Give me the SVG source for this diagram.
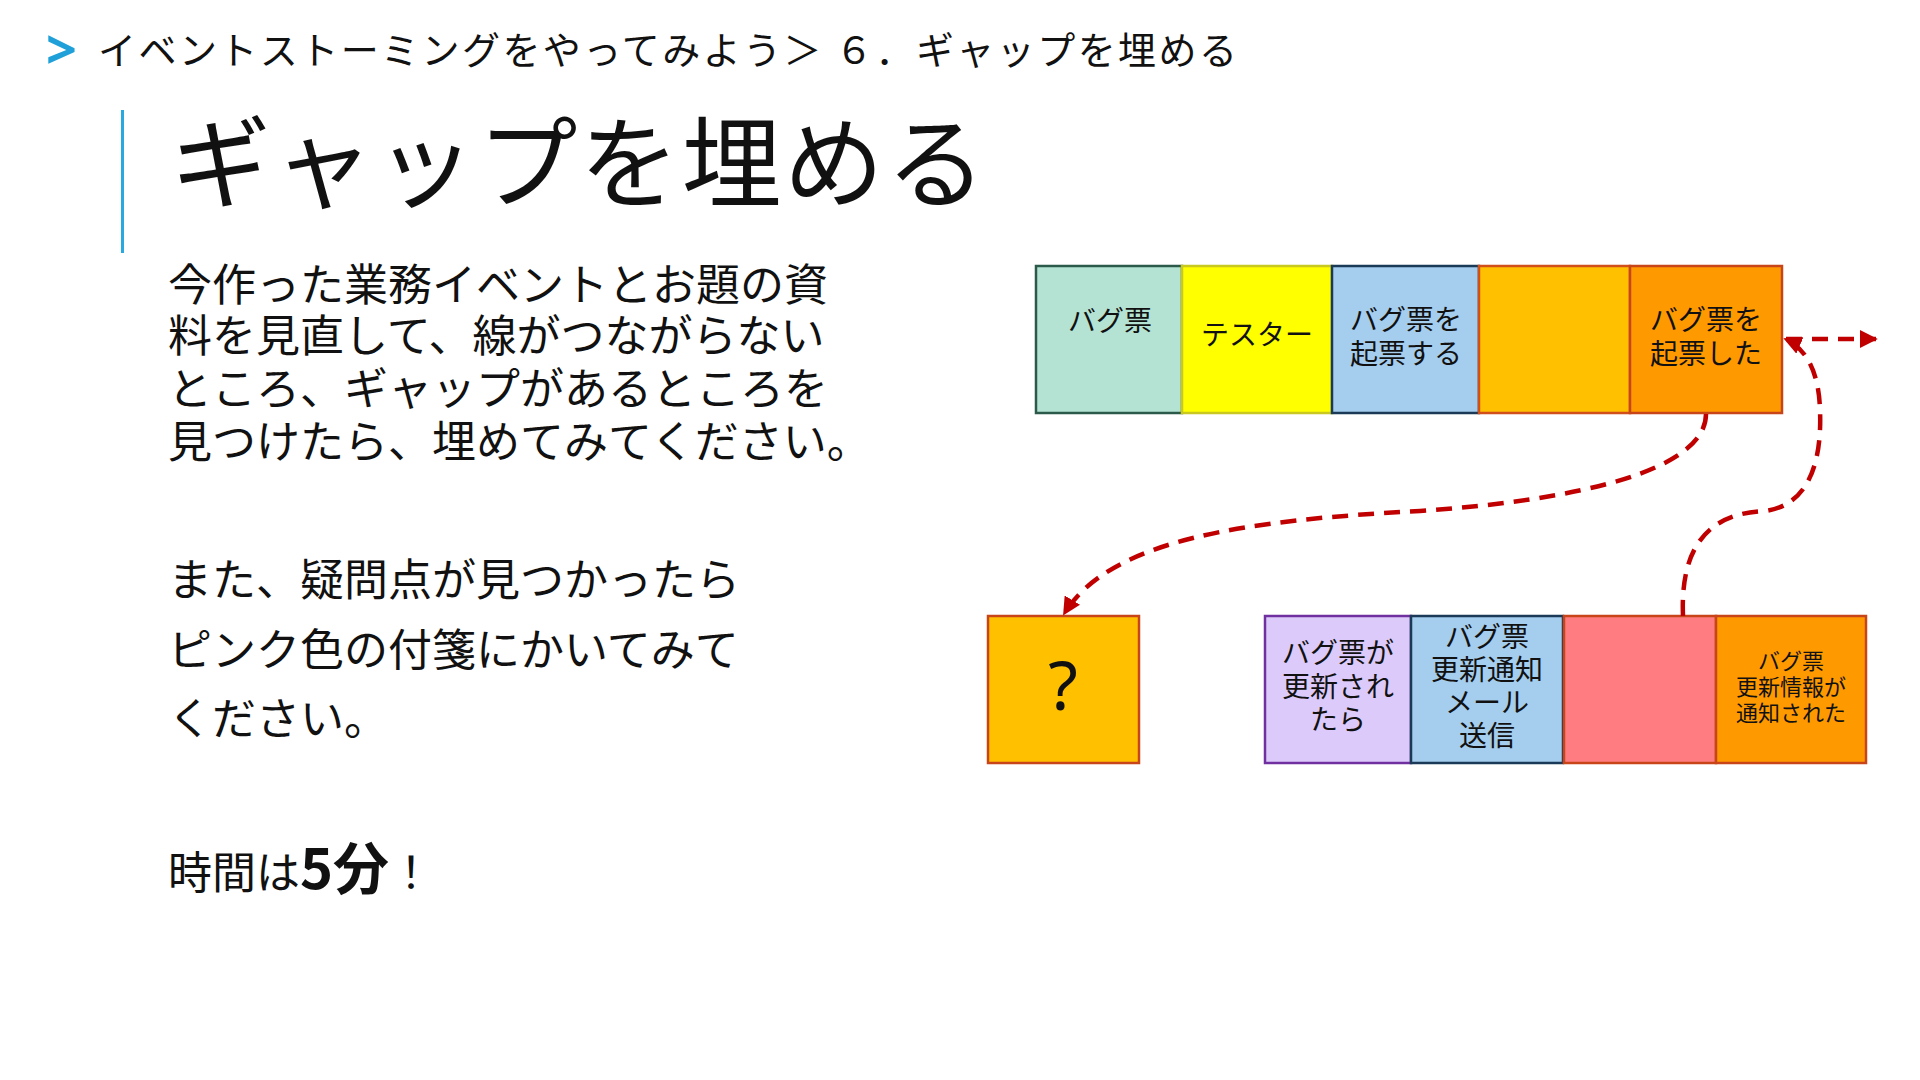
<svg xmlns="http://www.w3.org/2000/svg" width="1920" height="1080" viewBox="0 0 1920 1080">
<style>
text{font-family:"Noto Sans CJK JP","Noto Sans",sans-serif;fill:#111}
.crumb{font-size:38px}
.title{font-size:100px}
.body{font-size:44px}
.lbl{font-size:28px;text-anchor:middle}
.sm{font-size:22px;text-anchor:middle}
.box{stroke-width:2.5}
.conn{fill:none;stroke:#c00000;stroke-width:4.5;stroke-dasharray:16 10}
</style>
<defs>
<marker id="ah" viewBox="0 0 10 10" refX="9" refY="5" markerWidth="4" markerHeight="4" orient="auto" markerUnits="strokeWidth">
<path d="M0,0 L10,5 L0,10 z" fill="#c00000"/>
</marker>
</defs>
<rect width="1920" height="1080" fill="#fff"/>
<g id="header">
<text x="46" y="69" style="fill:#1fa0d8;font-family:'Noto Sans',sans-serif;font-size:54px;font-weight:bold">&gt;</text>
<text x="98" y="64" class="crumb" textLength="1139">イベントストーミングをやってみよう＞ ６．ギャップを埋める</text>
<rect x="121" y="110" width="3" height="143" fill="#29a9e0"/>
<text x="171" y="200" class="title" textLength="815">ギャップを埋める</text>
</g>
<g id="instructions">
<text x="168" y="301" class="body">今作った業務イベントとお題の資</text>
<text x="168" y="352" class="body">料を見直して、線がつながらない</text>
<text x="168" y="405" class="body">ところ、ギャップがあるところを</text>
<text x="168" y="458" class="body">見つけたら、埋めてみてください。</text>
<text x="168" y="596" class="body">また、疑問点が見つかったら</text>
<text x="168" y="666" class="body">ピンク色の付箋にかいてみて</text>
<text x="168" y="735" class="body">ください。</text>
<text x="168" y="889" class="body">時間は<tspan style="font-weight:bold;font-size:56px">5分</tspan>！</text>
</g>
<g id="n-bug-ticket">
<rect class="box" x="1036" y="266" width="146" height="147" fill="#b4e3d4" stroke="#2c5a4a"/>
<text class="lbl" x="1110" y="331">バグ票</text>
</g>
<g id="n-tester">
<rect class="box" x="1182" y="266" width="150" height="147" fill="#ffff00" stroke="#c8c820"/>
<text class="lbl" x="1257" y="345">テスター</text>
</g>
<g id="n-create-cmd">
<rect class="box" x="1332" y="266" width="147" height="147" fill="#a5cdee" stroke="#1b3a57"/>
<text class="lbl" x="1406" y="330">バグ票を</text>
<text class="lbl" x="1406" y="364">起票する</text>
</g>
<g id="n-empty-orange">
<rect class="box" x="1479" y="266" width="151" height="147" fill="#ffc000" stroke="#d04f1a"/>
</g>
<g id="n-created-event">
<rect class="box" x="1630" y="266" width="152" height="147" fill="#ff9900" stroke="#c8451a"/>
<text class="lbl" x="1706" y="330">バグ票を</text>
<text class="lbl" x="1706" y="364">起票した</text>
</g>
<g id="n-question">
<rect class="box" x="988" y="616" width="151" height="147" fill="#ffc000" stroke="#c8451a"/>
<text x="1063" y="710" style="font-family:'Noto Sans',sans-serif;font-size:68px;text-anchor:middle">?</text>
</g>
<g id="n-policy">
<rect class="box" x="1265" y="616" width="146" height="147" fill="#dccbfa" stroke="#7030a0"/>
<text class="lbl" x="1338" y="663">バグ票が</text>
<text class="lbl" x="1338" y="697">更新され</text>
<text class="lbl" x="1338" y="730">たら</text>
</g>
<g id="n-mail-cmd">
<rect class="box" x="1411" y="616" width="152" height="147" fill="#a5cdee" stroke="#1b3a57"/>
<text class="lbl" x="1487" y="647">バグ票</text>
<text class="lbl" x="1487" y="680">更新通知</text>
<text class="lbl" x="1487" y="713">メール</text>
<text class="lbl" x="1487" y="746">送信</text>
</g>
<g id="n-pink">
<rect class="box" x="1564" y="616" width="152" height="147" fill="#ff7c80" stroke="#c8451a"/>
</g>
<g id="n-notified-event">
<rect class="box" x="1716" y="616" width="150" height="147" fill="#ff9900" stroke="#c8451a"/>
<text class="sm" x="1791" y="669">バグ票</text>
<text class="sm" x="1791" y="695">更新情報が</text>
<text class="sm" x="1791" y="721">通知された</text>
</g>
<g id="connectors">
<path class="conn" d="M1706,414 C1706,470 1580,500 1420,511 C1250,520 1110,538 1064,614" marker-end="url(#ah)"/>
<path class="conn" d="M1683,616 C1680,545 1710,513 1765,511 C1810,505 1822,460 1820,410 C1819,372 1806,348 1785,339" marker-end="url(#ah)"/>
<path class="conn" d="M1786,339 L1876,339" marker-end="url(#ah)"/>
</g>
</svg>
